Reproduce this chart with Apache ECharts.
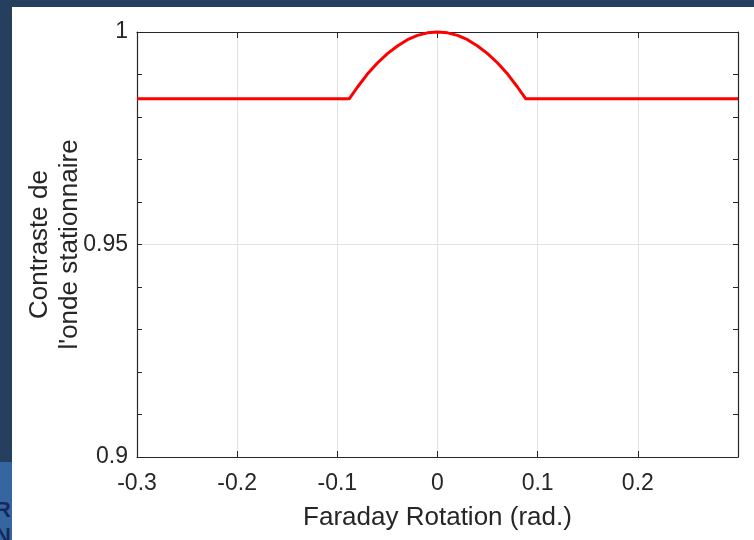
<!DOCTYPE html>
<html>
<head>
<meta charset="utf-8">
<script src="https://cdn.jsdelivr.net/npm/echarts@6/dist/echarts.min.js"></script>
<style>html,body{margin:0;padding:0;background:#fff;}#c{width:754px;height:540px;}</style>
</head>
<body>
<div id="c"></div>
<script>
// Data
const rotation = [-0.3, -0.088, -0.08, -0.07, -0.06, -0.05, -0.04, -0.03, -0.02, -0.01, 0, 0.01, 0.02, 0.03, 0.04, 0.05, 0.06, 0.07, 0.08, 0.088, 0.3];
const contrast = [0.9843, 0.9843, 0.9870, 0.9901, 0.9927, 0.9949, 0.9967, 0.9982, 0.9992, 0.9998, 1.0, 0.9998, 0.9992, 0.9982, 0.9967, 0.9949, 0.9927, 0.9901, 0.9870, 0.9843, 0.9843];
const xTicks = [-0.3, -0.2, -0.1, 0, 0.1, 0.2];
const yTicks = [0.9, 0.95, 1];

const font = 'Liberation Sans, Arial, Helvetica, sans-serif';
const txt = '#262626';
const chart = echarts.init(document.getElementById('c'));
const pts = rotation.map((x, i) => [x, contrast[i]]);

chart.setOption({
  animation: false,
  backgroundColor: '#ffffff',
  grid: { left: 137, right: 16, top: 32, bottom: 83, containLabel: false, outerBoundsMode: 'none' },
  graphic: [
    { type: 'rect', shape: { x: 0, y: 0, width: 754, height: 7 }, style: { fill: '#263f5f' }, z: 100 },
    { type: 'rect', shape: { x: 0, y: 0, width: 12, height: 462 }, style: { fill: '#263f5f' }, z: 100 },
    { type: 'rect', shape: { x: 0, y: 462, width: 12, height: 78 }, style: { fill: '#3566a0' }, z: 100 },
    { type: 'text', x: -5, y: 500, style: { text: 'R', fill: '#17285e', font: 'bold 22px ' + font }, z: 101 },
    { type: 'text', x: -5, y: 526, style: { text: 'N', fill: '#17285e', font: 'bold 22px ' + font }, z: 101 },
    { type: 'rect', shape: { x: 12, y: 462, width: 20, height: 78 }, style: { fill: '#ffffff' }, z: 102 }
  ],
  xAxis: [
    {
      type: 'value', min: -0.3, max: 0.3, interval: 0.1, position: 'bottom',
      name: 'Faraday Rotation (rad.)', nameLocation: 'middle', nameGap: 48, nameMoveOverlap: false,
      nameTextStyle: { color: txt, fontSize: 26, fontFamily: font },
      axisLine: { show: true, onZero: false, lineStyle: { color: txt, width: 1.2 } },
      axisTick: { show: true, inside: true, length: 6, lineStyle: { color: txt } },
      axisLabel: {
        color: txt, fontSize: 23, fontFamily: font, margin: 15,
        formatter: v => { const r = Math.round(v * 10) / 10; return xTicks.includes(r) ? String(r) : ''; }
      },
      splitLine: { show: true, lineStyle: { color: '#e3e3e3', width: 1 } }
    },
    {
      type: 'value', min: -0.3, max: 0.3, interval: 0.1, position: 'top',
      axisLine: { show: true, onZero: false, lineStyle: { color: txt, width: 1.2 } },
      axisTick: { show: true, inside: true, length: 6, lineStyle: { color: txt } },
      axisLabel: { show: false }, splitLine: { show: false }
    }
  ],
  yAxis: [
    {
      type: 'value', min: 0.9, max: 1, interval: 0.05, position: 'left',
      name: 'Contraste de\nl\'onde stationnaire', nameLocation: 'middle', nameGap: 52, nameMoveOverlap: false,
      nameTextStyle: { color: txt, fontSize: 26, fontFamily: font, lineHeight: 30, align: 'center' },
      axisLine: { show: true, onZero: false, lineStyle: { color: txt, width: 1.2 } },
      axisTick: { show: true, inside: true, length: 5, lineStyle: { color: txt } },
      minorTick: { show: true, splitNumber: 5, length: 5, lineStyle: { color: txt } },
      axisLabel: {
        color: txt, fontSize: 23, fontFamily: font, margin: 9,
        formatter: v => { const r = Math.round(v * 100) / 100; return yTicks.includes(r) ? String(r) : ''; }
      },
      splitLine: { show: true, lineStyle: { color: '#e3e3e3', width: 1 } }
    },
    {
      type: 'value', min: 0.9, max: 1, interval: 0.05, position: 'right',
      axisLine: { show: true, onZero: false, lineStyle: { color: txt, width: 1.2 } },
      axisTick: { show: true, inside: true, length: 5, lineStyle: { color: txt } },
      minorTick: { show: true, splitNumber: 5, length: 5, lineStyle: { color: txt } },
      axisLabel: { show: false }, splitLine: { show: false }
    }
  ],
  series: [{
    type: 'line', data: pts, smooth: false, showSymbol: false, symbol: 'none', clip: false,
    lineStyle: { color: '#ff0000', width: 3, join: 'round' }
  }]
});
</script>
</body>
</html>
